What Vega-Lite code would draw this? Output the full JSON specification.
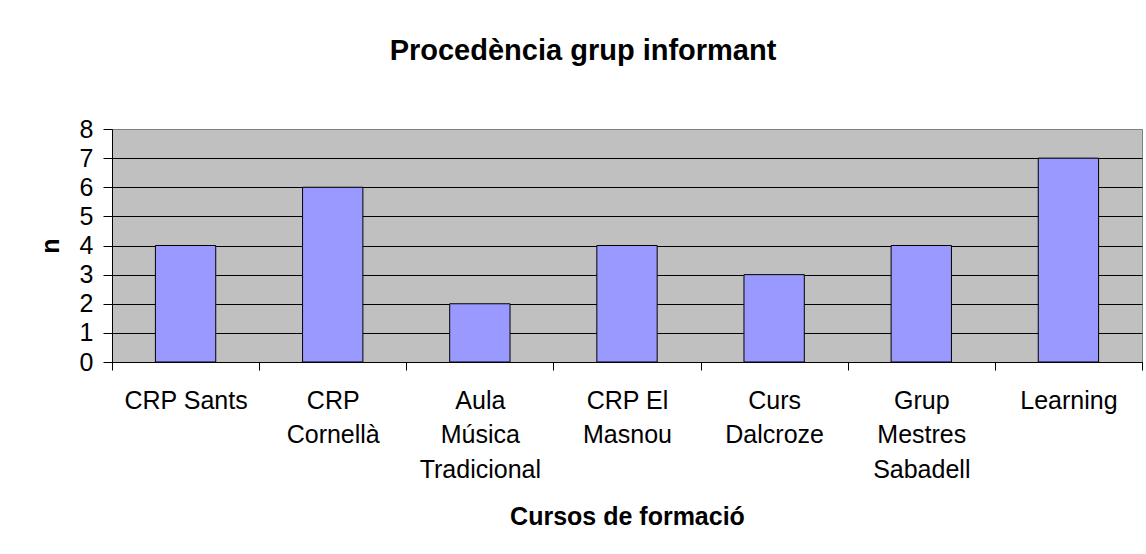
{
  "$schema": "https://vega.github.io/schema/vega-lite/v6.json",
  "width": 1030,
  "height": 233,
  "autosize": {"type": "none"},
  "padding": {"left": 112, "top": 129, "right": 4, "bottom": 192},
  "background": "white",
  "title": {
    "text": "Procedència grup informant",
    "font": "Liberation Sans",
    "fontSize": 29,
    "fontWeight": "bold",
    "color": "black",
    "anchor": "middle",
    "frame": "group",
    "baseline": "alphabetic",
    "dx": -44,
    "offset": 28
  },
  "data": {
    "values": [
      {"curs": "CRP Sants", "n": 4},
      {"curs": "CRP\nCornellà", "n": 6},
      {"curs": "Aula\nMúsica\nTradicional", "n": 2},
      {"curs": "CRP El\nMasnou", "n": 4},
      {"curs": "Curs\nDalcroze", "n": 3},
      {"curs": "Grup\nMestres\nSabadell", "n": 4},
      {"curs": "Learning", "n": 7}
    ]
  },
  "mark": {"type": "bar", "color": "#9999FF", "stroke": "black", "strokeWidth": 1, "width": {"band": 0.41}},
  "encoding": {
    "x": {
      "field": "curs",
      "type": "nominal",
      "sort": null,
      "scale": {"paddingInner": 0, "paddingOuter": 0},
      "axis": {
        "title": "Cursos de formació",
        "titleFont": "Liberation Sans",
        "titleFontSize": 25,
        "titleFontWeight": "bold",
        "titleColor": "black",
        "titleBaseline": "alphabetic",
        "titleY": 162,
        "labelAngle": 0,
        "labelFont": "Liberation Sans",
        "labelFontSize": 25,
        "labelColor": "black",
        "labelLineHeight": 34.5,
        "labelBaseline": "alphabetic",
        "labelPadding": 38,
        "labelLimit": 0,
        "labelOverlap": false,
        "labelExpr": "split(datum.label, '\\n')",
        "domainColor": "black",
        "ticks": true,
        "tickColor": "black",
        "tickWidth": 1,
        "tickSize": 8,
        "tickBand": "extent",
        "tickExtra": true,
        "grid": false
      }
    },
    "y": {
      "field": "n",
      "type": "quantitative",
      "scale": {"domain": [0, 8], "nice": false},
      "axis": {
        "title": "n",
        "titleFont": "Liberation Sans",
        "titleFontSize": 25,
        "titleFontWeight": "bold",
        "titleColor": "black",
        "titleAngle": 270,
        "titleBaseline": "alphabetic",
        "titleAlign": "center",
        "titleX": -54,
        "titleY": 116.5,
        "values": [0, 1, 2, 3, 4, 5, 6, 7, 8],
        "labelFont": "Liberation Sans",
        "labelFontSize": 25,
        "labelColor": "black",
        "labelPadding": 10,
        "labelFlush": false,
        "labelOverlap": false,
        "domainColor": "black",
        "ticks": true,
        "tickColor": "black",
        "tickWidth": 1,
        "tickSize": 9,
        "grid": true,
        "gridColor": {"condition": {"test": "datum.value == 8", "value": "#808080"}, "value": "black"},
        "gridOpacity": 1
      }
    }
  },
  "config": {
    "view": {"fill": "#C0C0C0", "stroke": "#808080"}
  }
}
